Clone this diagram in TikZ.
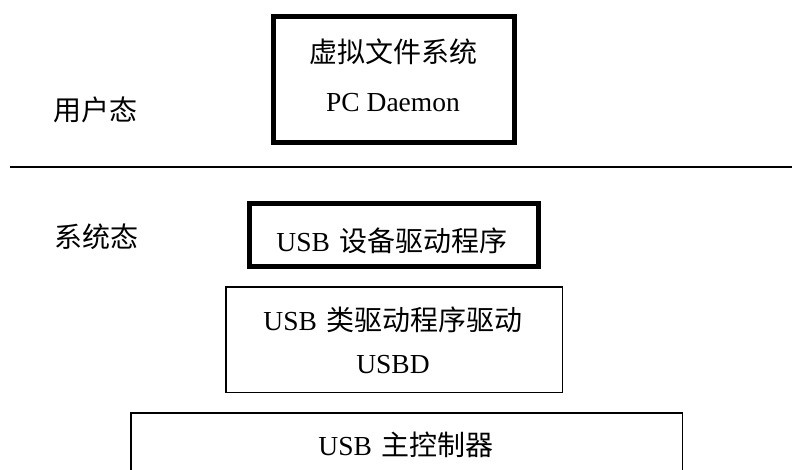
\documentclass[tikz,border=0pt]{standalone}
\usepackage{fontspec}
\setmainfont{Liberation Serif}
\newfontfamily\cjkf{Noto Sans CJK SC}
\newcommand\zh[1]{{\fontsize{28}{32}\selectfont\cjkf #1}}
\begin{document}
\begin{tikzpicture}[x=1pt,y=-1pt,
  thickbox/.style={draw=black,line width=5pt,inner sep=0pt},
  thinbox/.style={draw=black,line width=1.5pt,inner sep=0pt},
  txt/.style={anchor=base,inner sep=0pt,font=\fontsize{27.5}{32}\selectfont}]
\useasboundingbox (0,0) rectangle (792,469);
\clip (0,0) rectangle (792,469);
% boxes
\node[thickbox,minimum width=241pt,minimum height=126pt] (vfs) at (394,79.5) {};
\node[thickbox,minimum width=289pt,minimum height=63pt] (dev) at (394,235) {};
\node[thinbox,minimum width=336.5pt,minimum height=105.5pt] (cls) at (394,339.5) {};
\node[thinbox,minimum width=551.5pt,minimum height=120pt] (hc) at (406.5,472.75) {};
% divider
\coordinate (la) at (10,167);
\coordinate (lb) at (792,167);
\draw[line width=1.8pt] (la) -- (lb);
% texts
\node[txt] (t1) at (393,62.5) {\zh{虚拟文件系统}};
\node[txt] (t2) at (393,111) {PC Daemon};
\node[txt] (t3) at (392,251.5) {USB\hspace{0.35em}\zh{设备驱动程序}};
\node[txt] (t4) at (393,330.5) {USB\hspace{0.35em}\zh{类驱动程序驱动}};
\node[txt] (t5) at (393,373) {USBD};
\node[txt] (t6) at (406,455.5) {USB\hspace{0.35em}\zh{主控制器}};
\node[txt] (u1) at (95,120.5) {\zh{用户态}};
\node[txt] (u2) at (96,247.5) {\zh{系统态}};
\end{tikzpicture}
\end{document}
